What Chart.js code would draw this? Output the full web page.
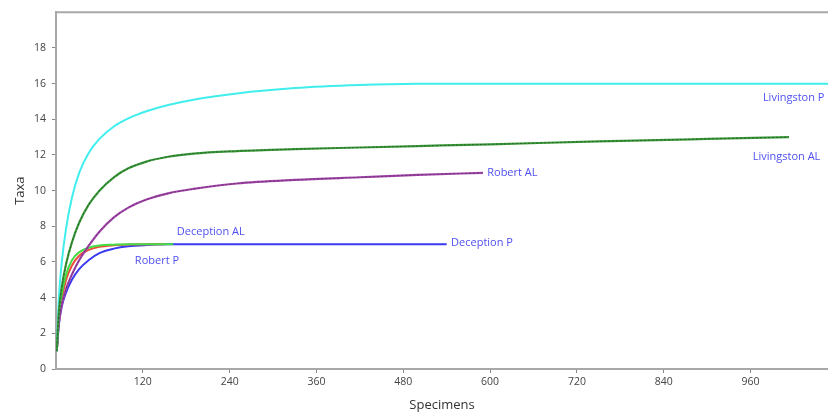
<!DOCTYPE html>
<html>
<head>
<meta charset="utf-8">
<script src="https://cdn.jsdelivr.net/npm/chart.js@4.4.1/dist/chart.umd.min.js"></script>
<style>
  html, body { margin: 0; padding: 0; background: #fff; }
  #wrap { width: 828px; height: 412px; position: relative; }
</style>
</head>
<body>
<div id="wrap"><canvas id="chart"></canvas></div>
<script>
// rarefaction curves (specimens -> taxa)
const livPX = [1, 4, 8, 14, 22, 32, 45, 60, 80, 100, 125, 155, 190, 250, 330, 420, 500, 600, 1080];
const livPY = [1, 4.0, 6.0, 7.9, 9.6, 11.0, 12.1, 12.9, 13.6, 14.05, 14.45, 14.8, 15.1, 15.45, 15.75, 15.92, 15.99, 16, 16];

const livALX = [1, 4, 8, 14, 22, 32, 45, 60, 80, 100, 125, 155, 190, 250, 330, 420, 500, 600, 750, 900, 1013];
const livALY = [1, 3.2, 4.6, 5.9, 7.1, 8.2, 9.2, 10.0, 10.75, 11.25, 11.63, 11.9, 12.08, 12.22, 12.33, 12.42, 12.5, 12.6, 12.76, 12.9, 13.0];

const robALX = [1, 4, 8, 14, 22, 32, 45, 60, 80, 100, 125, 155, 190, 250, 330, 420, 500, 590];
const robALY = [1, 2.6, 3.6, 4.5, 5.3, 6.1, 6.9, 7.7, 8.5, 9.05, 9.5, 9.85, 10.1, 10.4, 10.6, 10.75, 10.88, 11.0];

const decPX = [1, 4, 8, 14, 22, 32, 45, 60, 80, 100, 125, 155, 190, 540];
const decPY = [1, 2.5, 3.5, 4.3, 5.0, 5.6, 6.1, 6.5, 6.75, 6.88, 6.95, 6.99, 7.0, 7.0];

const decALX = [1, 4, 8, 14, 22, 32, 45, 60, 80, 100, 130, 162];
const decALY = [1, 2.9, 4.2, 5.3, 6.1, 6.55, 6.8, 6.92, 6.97, 7.0, 7.0, 7.0];

const robPX = [1, 4, 8, 14, 22, 32, 45, 60, 80, 100, 130, 150];
const robPY = [1, 2.7, 3.9, 5.0, 5.8, 6.35, 6.68, 6.85, 6.94, 6.98, 7.0, 7.0];

const xTicks = [120, 240, 360, 480, 600, 720, 840, 960];
const yTicks = [0, 2, 4, 6, 8, 10, 12, 14, 16, 18];

// curve names and where their text sits (specimens, taxa)
const labelNames = ['Livingston P', 'Livingston AL', 'Robert AL', 'Deception P', 'Deception AL', 'Robert P'];
const labelX = [977, 963, 596, 546, 167, 109];
const labelY = [15.2, 11.9, 11.0, 7.1, 7.7, 6.05];

const pts = (xs, ys) => xs.map((x, i) => ({ x: x, y: ys[i] }));

const line = (label, xs, ys, color, order, extra) => Object.assign({
  label: label,
  data: pts(xs, ys),
  borderColor: color,
  borderWidth: 2,
  pointRadius: 0,
  fill: false,
  cubicInterpolationMode: 'monotone',
  order: order
}, extra || {});

const curveLabels = {
  id: 'curveLabels',
  afterDatasetsDraw(chart) {
    const { ctx, scales: { x, y } } = chart;
    ctx.save();
    ctx.font = '11px "Open Sans", sans-serif';
    ctx.fillStyle = '#4f4ff0';
    ctx.textAlign = 'left';
    ctx.textBaseline = 'middle';
    labelNames.forEach((name, i) => {
      ctx.fillText(name, x.getPixelForValue(labelX[i]), y.getPixelForValue(labelY[i]));
    });
    ctx.restore();
  }
};

const topBorder = {
  id: 'topBorder',
  beforeDatasetsDraw(chart) {
    const { ctx, chartArea: a } = chart;
    ctx.save();
    ctx.strokeStyle = '#a8a8a8';
    ctx.lineWidth = 2;
    ctx.beginPath();
    ctx.moveTo(a.left - 1, a.top);
    ctx.lineTo(a.right, a.top);
    ctx.stroke();
    ctx.restore();
  }
};

new Chart(document.getElementById('chart'), {
  type: 'line',
  data: {
    datasets: [
      line('Livingston P', livPX, livPY, '#40eeee', 6),
      line('Livingston AL', livALX, livALY, 'rgba(25,55,25,0.55)', 4, { borderWidth: 1, borderDash: [2, 2] }),
      line('Livingston AL', livALX, livALY, '#3a9a3a', 5, { borderWidth: 2.2 }),
      line('Robert AL', robALX, robALY, 'rgba(60,20,60,0.45)', 6, { borderWidth: 1, borderDash: [2, 2] }),
      line('Robert AL', robALX, robALY, '#a045a8', 7, { borderWidth: 2.2 }),
      line('Deception P', decPX, decPY, '#3a3af0', 10),
      line('Robert P', robPX, robPY, '#f04a3a', 9),
      line('Deception AL', decALX, decALY, '#44dd44', 8)
    ]
  },
  options: {
    responsive: true,
    maintainAspectRatio: false,
    animation: false,
    layout: { padding: { top: 11, right: 0, left: 0, bottom: 0 } },
    plugins: {
      legend: { display: false },
      tooltip: { enabled: false }
    },
    scales: {
      x: {
        type: 'linear',
        min: 0,
        max: 1067,
        afterBuildTicks: axis => { axis.ticks = xTicks.map(v => ({ value: v })); },
        afterFit: axis => { axis.height = 43; },
        border: { color: '#a8a8a8', width: 2 },
        grid: { display: true, drawOnChartArea: false, tickLength: 4, color: '#888' },
        ticks: {
          autoSkip: false,
          maxRotation: 0,
          padding: 3,
          color: '#444',
          font: { family: '"Open Sans", sans-serif', size: 10.5 }
        },
        title: {
          display: true,
          text: 'Specimens',
          color: '#333',
          padding: { top: 0, bottom: 0 },
          font: { family: '"Open Sans", sans-serif', size: 13, lineHeight: 1.0 }
        }
      },
      y: {
        type: 'linear',
        min: 0,
        max: 20,
        afterBuildTicks: axis => { axis.ticks = yTicks.map(v => ({ value: v })); },
        afterFit: axis => { axis.width = 56; },
        border: { color: '#a8a8a8', width: 2 },
        grid: { display: true, drawOnChartArea: false, tickLength: 4, color: '#888' },
        ticks: {
          padding: 6,
          color: '#444',
          font: { family: '"Open Sans", sans-serif', size: 10.5 }
        },
        title: {
          display: true,
          text: 'Taxa',
          color: '#333',
          padding: { top: 12, bottom: 0 },
          font: { family: '"Open Sans", sans-serif', size: 13 }
        }
      }
    }
  },
  plugins: [curveLabels, topBorder]
});
</script>
</body>
</html>
